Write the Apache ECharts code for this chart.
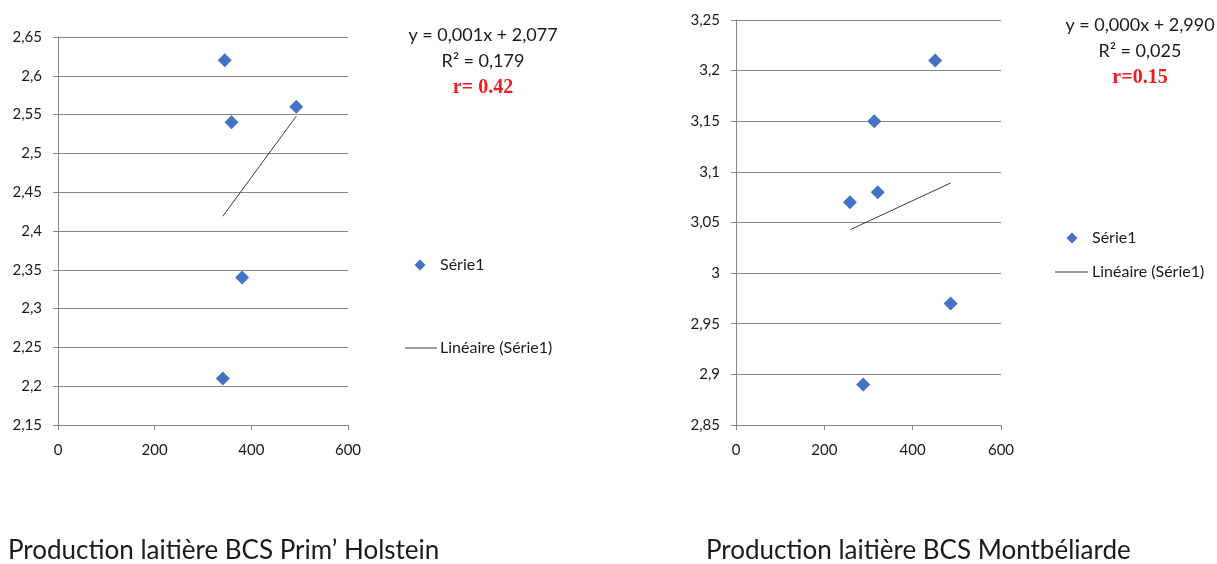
<!DOCTYPE html>
<html>
<head>
<meta charset="utf-8">
<script src="https://cdn.jsdelivr.net/npm/echarts@6/dist/echarts.min.js"></script>
<style>
  html, body { margin: 0; padding: 0; background: #fff; }
  #chart { width: 1217px; height: 564px; }
</style>
</head>
<body>
<div id="chart"></div>
<script>
// Prim' Holstein: milk production vs body condition score
const holsteinProd = [345, 359, 493, 381, 341];
const holsteinBCS = [2.62, 2.54, 2.56, 2.34, 2.21];
const holsteinTrendX = [341, 493];
const holsteinTrendY = [2.419, 2.548];
const holsteinEq = ['y = 0,001x + 2,077', 'R² = 0,179', 'r= 0.42'];

// Montbéliarde: milk production vs body condition score
const montbProd = [451, 313, 321, 258, 486, 288];
const montbBCS = [3.21, 3.15, 3.08, 3.07, 2.97, 2.89];
const montbTrendX = [259, 486];
const montbTrendY = [3.043, 3.089];
const montbEq = ['y = 0,000x + 2,990', 'R² = 0,025', 'r=0.15'];

const xTicks = { min: 0, max: 600, interval: 200 };
const holsteinY = { min: 2.15, max: 2.65, interval: 0.05 };
const montbY = { min: 2.85, max: 3.25, interval: 0.05 };

const titles = ['Production laitière BCS Prim’ Holstein', 'Production laitière BCS Montbéliarde'];
const seriesName = 'Série1';
const trendName = 'Linéaire (Série1)';

const FONT = 'Lato, "Open Sans", sans-serif';
const TXT = '#1a1a1a';
const GRID = '#878787';

const zip = (a, b) => a.map((v, i) => [v, b[i]]);
const fmtComma = v => String(+v.toFixed(2)).replace('.', ',');

function xAxis(gridIndex) {
  return {
    type: 'value', gridIndex,
    min: xTicks.min, max: xTicks.max, interval: xTicks.interval,
    axisLine: { show: true, lineStyle: { color: GRID } },
    axisTick: { show: true, length: 5, lineStyle: { color: GRID } },
    splitLine: { show: false },
    axisLabel: { color: TXT, fontFamily: FONT, fontSize: 15, margin: 18 }
  };
}
function yAxis(gridIndex, r) {
  return {
    type: 'value', gridIndex,
    min: r.min, max: r.max, interval: r.interval,
    axisLine: { show: true, lineStyle: { color: GRID } },
    axisTick: { show: true, length: 5, lineStyle: { color: GRID } },
    splitLine: { show: true, lineStyle: { color: GRID, width: 1 } },
    axisLabel: { color: TXT, fontFamily: FONT, fontSize: 15, margin: 16, formatter: fmtComma }
  };
}
function scatter(idx, xs, ys) {
  return {
    name: seriesName, type: 'scatter', xAxisIndex: idx, yAxisIndex: idx,
    symbol: 'diamond', symbolSize: 14,
    itemStyle: { color: '#4472C4', opacity: 1 },
    data: zip(xs, ys), z: 3
  };
}
function trend(idx, xs, ys) {
  return {
    name: trendName, type: 'line', xAxisIndex: idx, yAxisIndex: idx,
    symbol: 'none', silent: true,
    lineStyle: { color: '#3a3a3a', width: 1 },
    data: zip(xs, ys), z: 2
  };
}
function equation(cx, top, lines) {
  return [
    { type: 'text', x: cx, y: top, style: { text: lines[0], fill: TXT, font: '18px ' + FONT, align: 'center', verticalAlign: 'middle' } },
    { type: 'text', x: cx, y: top + 26, style: { text: lines[1], fill: TXT, font: '18px ' + FONT, align: 'center', verticalAlign: 'middle' } },
    { type: 'text', x: cx, y: top + 53, style: { text: lines[2], fill: '#ee1c1c', font: 'bold 20px "Liberation Serif", "Times New Roman", serif', align: 'center', verticalAlign: 'middle' } }
  ];
}
function legendPair(diamondX, diamondY, lineX0, lineX1, lineY, textX) {
  const d = 5.5;
  return [
    { type: 'polygon', x: diamondX, y: diamondY, shape: { points: [[0, -d], [d, 0], [0, d], [-d, 0]] }, style: { fill: '#4472C4' } },
    { type: 'text', x: textX, y: diamondY, style: { text: seriesName, fill: TXT, font: '16px ' + FONT, verticalAlign: 'middle' } },
    { type: 'line', shape: { x1: lineX0, y1: lineY, x2: lineX1, y2: lineY }, style: { stroke: '#3a3a3a', lineWidth: 1 } },
    { type: 'text', x: textX, y: lineY, style: { text: trendName, fill: TXT, font: '16px ' + FONT, verticalAlign: 'middle' } }
  ];
}

const chart = echarts.init(document.getElementById('chart'));
chart.setOption({
  animation: false,
  grid: [
    { left: 58, top: 37, width: 290, height: 388 },
    { left: 736, top: 20, width: 265, height: 405 }
  ],
  xAxis: [xAxis(0), xAxis(1)],
  yAxis: [yAxis(0, holsteinY), yAxis(1, montbY)],
  series: [
    scatter(0, holsteinProd, holsteinBCS),
    trend(0, holsteinTrendX, holsteinTrendY),
    scatter(1, montbProd, montbBCS),
    trend(1, montbTrendX, montbTrendY)
  ],
  graphic: [].concat(
    equation(483, 35, holsteinEq),
    equation(1140, 25, montbEq),
    legendPair(420, 265, 405, 437, 348, 440),
    legendPair(1072, 238, 1055, 1088, 272, 1092),
    [
      { type: 'text', x: 8, y: 551, style: { text: titles[0], fill: TXT, font: '26px ' + FONT, verticalAlign: 'middle' } },
      { type: 'text', x: 706, y: 551, style: { text: titles[1], fill: TXT, font: '26px ' + FONT, verticalAlign: 'middle' } }
    ]
  )
});
</script>
</body>
</html>
